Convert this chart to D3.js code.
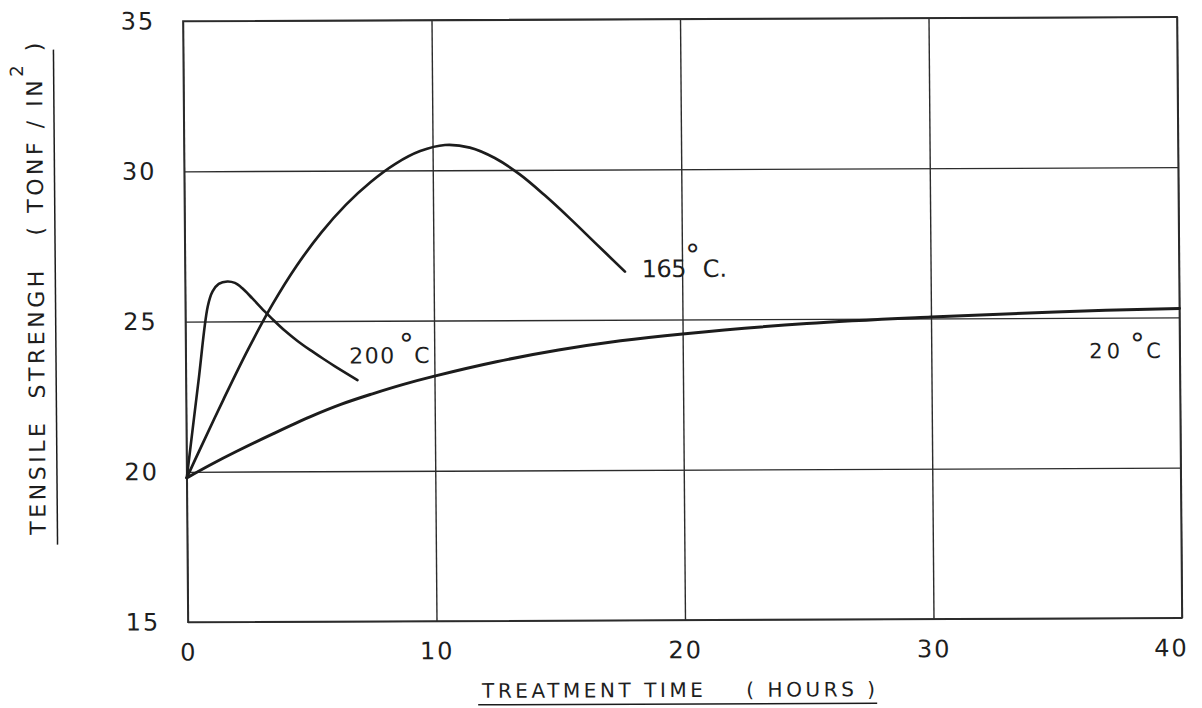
<!DOCTYPE html>
<html>
<head>
<meta charset="utf-8">
<script src="https://cdn.jsdelivr.net/npm/d3@7"></script>
<style>
  html, body { margin: 0; padding: 0; background: #fff; }
  svg { display: block; }
  text { font-family: "DejaVu Sans", "Liberation Sans", sans-serif; fill: #1e1e1e; }
</style>
</head>
<body>
<svg id="chart" width="1202" height="708"></svg>
<script>
// Axis ticks
const hourTicks = [0, 10, 20, 30, 40];
const strengthTicks = [15, 20, 25, 30, 35];

// Tensile strength (tonf/in²) against treatment time (hours), per ageing temperature
const curve20C = [
  [0, 19.8], [1, 20.25], [2, 20.67], [3.5, 21.26], [5, 21.82], [6.25, 22.23], [7.5, 22.57],
  [8.75, 22.88], [10, 23.15], [12.5, 23.62], [15, 24.0], [17.5, 24.3], [20, 24.52],
  [25, 24.85], [30, 25.05], [35, 25.2], [40, 25.3]
];
const curve165C = [
  [0, 19.8], [0.5, 20.68], [1.5, 22.4], [2.5, 24.05], [3.5, 25.55], [4.5, 26.85],
  [5.5, 27.95], [6.5, 28.87], [7.5, 29.62], [8.5, 30.22], [9.5, 30.64], [10.5, 30.84],
  [11.5, 30.75], [12.5, 30.4], [13.5, 29.85], [14.5, 29.15], [15.5, 28.38],
  [16.5, 27.57], [17.7, 26.6]
];
const curve200C = [
  [0, 19.8], [0.5, 23.0], [0.9, 25.5], [1.1, 26.0], [1.35, 26.25], [1.7, 26.33],
  [2.0, 26.28], [2.3, 26.1], [2.7, 25.76], [3.2, 25.32], [3.5, 25.07], [4.0, 24.68],
  [4.5, 24.34], [5.0, 24.04], [5.5, 23.76], [6.0, 23.49], [6.9, 23.03]
];

const svg = d3.select("#chart");

const x = d3.scaleLinear().domain([0, 40]).range([185.5, 1179.5]);
const y = d3.scaleLinear().domain([15, 35]).range([620, 19]);

// slight skew of the hand-drawn sheet, about the plot centre
const cx = 681, cy = 320, sx = 0.0083, sy = -0.0042;
const g = svg.append("g")
  .attr("transform", `matrix(1,${sy},${sx},1,${-sx * cy},${-sy * cx})`);

const ink = "#1c1c1c";
const gridInk = "#2c2c2c";

// vertical grid + hour labels
const xAxis = g.append("g")
  .attr("transform", `translate(0,${y(15)})`)
  .call(d3.axisBottom(x).tickValues(hourTicks).tickSize(-(y(15) - y(35))).tickFormat(d3.format("d")));
xAxis.select(".domain").remove();
xAxis.selectAll(".tick line").attr("stroke", gridInk).attr("stroke-width", 1.4);
xAxis.selectAll(".tick text")
  .attr("y", 21).attr("dy", "0.72em")
  .attr("font-size", 24).attr("fill", ink)
  .attr("letter-spacing", 2);
xAxis.selectAll(".tick text").filter(d => d === 40)
  .attr("text-anchor", "end").attr("x", 6);

// horizontal grid + strength labels
const yAxis = g.append("g")
  .attr("transform", `translate(${x(0)},0)`)
  .call(d3.axisLeft(y).tickValues(strengthTicks).tickSize(-(x(40) - x(0))).tickFormat(d3.format("d")));
yAxis.select(".domain").remove();
yAxis.selectAll(".tick line").attr("stroke", gridInk).attr("stroke-width", 1.4);
yAxis.selectAll(".tick text")
  .attr("x", -45).attr("text-anchor", "middle")
  .attr("font-size", 24).attr("fill", ink)
  .attr("letter-spacing", 2);

// frame
g.append("rect")
  .attr("x", x(0)).attr("y", y(35))
  .attr("width", x(40) - x(0)).attr("height", y(15) - y(35))
  .attr("fill", "none").attr("stroke", gridInk).attr("stroke-width", 1.7);

// curves
const line = d3.line()
  .x(d => x(d[0])).y(d => y(d[1]))
  .curve(d3.curveCatmullRom.alpha(0.5));

[[curve20C, 3], [curve165C, 2.7], [curve200C, 2.6]].forEach(([data, w]) => {
  g.append("path")
    .datum(data)
    .attr("d", line)
    .attr("fill", "none")
    .attr("stroke", ink)
    .attr("stroke-width", w)
    .attr("stroke-linecap", "round")
    .attr("stroke-linejoin", "round");
});

// temperature labels: number, raised degree ring, C
function tempLabel(num, numX, baseY, size, degX, degY, cX, cText, spacing) {
  const t = g.append("text").attr("font-size", size).attr("fill", ink);
  t.append("tspan").attr("x", numX).attr("y", baseY).attr("letter-spacing", spacing).text(num);
  t.append("tspan").attr("x", degX).attr("y", degY).attr("font-size", 29).text("°");
  t.append("tspan").attr("x", cX).attr("y", baseY).text(cText);
}
tempLabel("200", 349, 362, 22, 399, 353, 414, "C", 1.5);
tempLabel("165", 642, 277, 24, 686, 265, 703, "C.", -0.5);
tempLabel("20", 1089, 360, 21, 1130, 356, 1146, "C", 4);

// axis titles
const yTitle = g.append("text")
  .attr("transform", "translate(44,286) rotate(-90)")
  .attr("text-anchor", "middle")
  .attr("font-size", 22)
  .attr("fill", ink)
  .attr("textLength", 492)
  .attr("lengthAdjust", "spacing");
yTitle.append("tspan").text("TENSILE\u00A0\u00A0STRENGH\u00A0\u00A0\u00A0(\u00A0TONF\u00A0/\u00A0IN");
yTitle.append("tspan").attr("font-size", 18).attr("dy", -19).text("2");
yTitle.append("tspan").attr("dy", 19).text("\u00A0)");

g.append("line")
  .attr("x1", 55.7).attr("x2", 55.7).attr("y1", 47).attr("y2", 542)
  .attr("stroke", ink).attr("stroke-width", 1.5);

g.append("text")
  .attr("x", 479).attr("y", 697)
  .attr("font-size", 20)
  .attr("fill", ink)
  .attr("textLength", 393)
  .attr("lengthAdjust", "spacing")
  .text("TREATMENT\u00A0TIME\u00A0\u00A0\u00A0\u00A0(\u00A0HOURS\u00A0)");

g.append("line")
  .attr("x1", 475).attr("x2", 874).attr("y1", 704).attr("y2", 704)
  .attr("stroke", ink).attr("stroke-width", 1.5);
</script>
</body>
</html>
